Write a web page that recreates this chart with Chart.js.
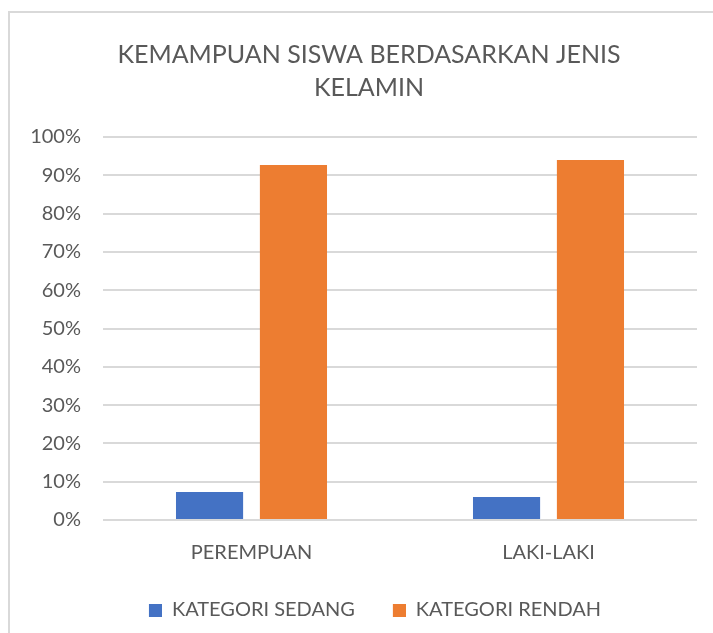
<!DOCTYPE html>
<html>
<head>
<meta charset="utf-8">
<script src="https://cdn.jsdelivr.net/npm/chart.js@4"></script>
<style>
  html, body { margin: 0; padding: 0; background: #fff; }
  #wrap { position: relative; width: 713px; height: 633px; }
  #frame { position: absolute; left: 8px; top: 11px; right: -10px; bottom: -10px; border: 2px solid #d9d9d9; }
  canvas { position: absolute; left: 0; top: 0; }
</style>
</head>
<body>
<div id="wrap">
  <div id="frame"></div>
  <canvas id="kemampuanChart" width="713" height="633"></canvas>
</div>
<script>
let categories = ["PEREMPUAN", "LAKI-LAKI"];
let kategoriSedang = [7.3, 6.0];
let kategoriRendah = [92.7, 94.0];
let judul = ["KEMAMPUAN SISWA BERDASARKAN JENIS", "KELAMIN"];

let fontFamily = "Lato, 'Open Sans', sans-serif";
let textColor = "#595959";

// legend marker: small square with empty space on its left, to widen the gap between items
function legendSquare(color) {
    let c = document.createElement("canvas");
    c.width = 37;
    c.height = 13;
    let g = c.getContext("2d");
    g.fillStyle = color;
    g.fillRect(24, 0, 13, 13);
    return c;
}

// title and legend are centred on the frame, not on the canvas
let centerBoxes = {
    id: "centerBoxes",
    afterLayout(chart) {
        let t = chart.titleBlock;
        let dt = 369 - (t.left + t.right) / 2;
        t.left += dt;
        t.right += dt;
        let lg = chart.legend;
        let dl = 363 - (lg.left + lg.right) / 2;
        lg.left += dl;
        lg.right += dl;
    },
};

let ctx = document.getElementById("kemampuanChart").getContext("2d");
let kemampuanChart = new Chart(ctx, {
    type: "bar",
    data: {
        labels: categories,
        datasets: [
            {
                label: "KATEGORI SEDANG",
                data: kategoriSedang,
                backgroundColor: "#4472C4",
                pointStyle: legendSquare("#4472C4"),
                categoryPercentage: 0.565,
                barPercentage: 0.8,
            },
            {
                label: "KATEGORI RENDAH",
                data: kategoriRendah,
                backgroundColor: "#ED7D31",
                pointStyle: legendSquare("#ED7D31"),
                categoryPercentage: 0.565,
                barPercentage: 0.8,
            },
        ],
    },
    plugins: [centerBoxes],
    options: {
        responsive: false,
        animation: false,
        layout: {
            padding: { left: 0, right: 16, top: 0, bottom: 3 },
        },
        plugins: {
            title: {
                display: true,
                text: judul,
                color: textColor,
                font: { family: fontFamily, size: 25, weight: "normal", lineHeight: 1.32 },
                padding: { top: 38, bottom: 33 },
            },
            legend: {
                position: "bottom",
                labels: {
                    color: textColor,
                    font: { family: fontFamily, size: 20 },
                    usePointStyle: true,
                    pointStyleWidth: 37,
                    boxHeight: 13,
                    padding: 14,
                },
            },
            tooltip: { enabled: false },
        },
        scales: {
            x: {
                grid: { display: false, drawTicks: false },
                border: { display: false },
                ticks: {
                    color: textColor,
                    font: { family: fontFamily, size: 20 },
                    padding: 21,
                },
            },
            y: {
                min: 0,
                max: 100,
                grid: { color: "#d9d9d9", lineWidth: 2, drawTicks: false },
                border: { display: false },
                ticks: {
                    stepSize: 10,
                    color: textColor,
                    font: { family: fontFamily, size: 20 },
                    padding: 22,
                    callback: (v) => v + "%",
                },
                afterFit: (scale) => {
                    scale.width = 103;
                },
            },
        },
    },
});
</script>
</body>
</html>
